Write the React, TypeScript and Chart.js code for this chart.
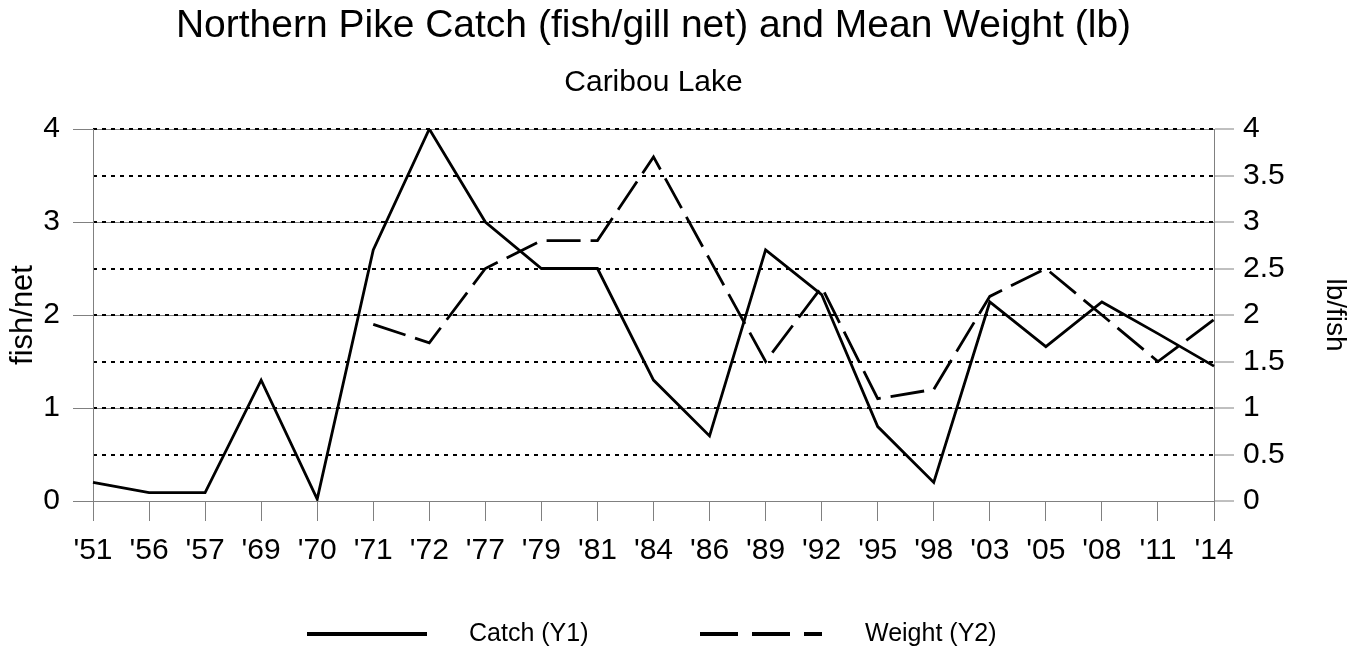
import React, { useEffect, useRef } from "react";
import { Chart, registerables } from "chart.js";

Chart.register(...registerables);

const FONT = "'Liberation Sans', Arial, Helvetica, sans-serif";

const years = ["'51", "'56", "'57", "'69", "'70", "'71", "'72", "'77", "'79", "'81", "'84", "'86", "'89", "'92", "'95", "'98", "'03", "'05", "'08", "'11", "'14"];
const catchValues = [0.2, 0.09, 0.09, 1.3, 0.02, 2.7, 4.0, 3.0, 2.5, 2.5, 1.3, 0.7, 2.7, 2.22, 0.8, 0.2, 2.14, 1.66, 2.14, 1.8, 1.45];
const weightValues = [null, null, null, null, null, 1.9, 1.7, 2.5, 2.8, 2.8, 3.7, 2.6, 1.5, 2.3, 1.1, 1.2, 2.2, 2.5, 2.0, 1.5, 1.95];
const leftTicks = [0, 1, 2, 3, 4];
const rightTicks = [0, 0.5, 1, 1.5, 2, 2.5, 3, 3.5, 4];
const seriesLabels = ["Catch (Y1)", "Weight (Y2)"];
const titleText = "Northern Pike Catch (fish/gill net) and Mean Weight (lb)";
const subtitleText = "Caribou Lake";
const leftAxisTitle = "fish/net";
const rightAxisTitle = "lb/fish";

const legendLayout = [
  { x0: 307, x1: 427, tx: 469, dash: [] as number[] },
  { x0: 700, x1: 822, tx: 865, dash: [38, 14] },
];

const legendPlugin = {
  id: "customLegend",
  afterDraw(chart: any) {
    const ctx = chart.ctx;
    const y = 634;
    chart.data.datasets.forEach((ds: any, i: number) => {
      const it = legendLayout[i];
      ctx.save();
      ctx.strokeStyle = "#000";
      ctx.lineWidth = 4;
      ctx.lineCap = "butt";
      ctx.setLineDash(it.dash);
      ctx.beginPath();
      ctx.moveTo(it.x0, y);
      ctx.lineTo(it.x1, y);
      ctx.stroke();
      ctx.setLineDash([]);
      ctx.fillStyle = "#000";
      ctx.font = `25px ${FONT}`;
      ctx.textBaseline = "middle";
      ctx.textAlign = "left";
      ctx.fillText(ds.label, it.tx, y);
      ctx.restore();
    });
  },
};

export default function App() {
  const canvasRef = useRef<HTMLCanvasElement | null>(null);

  useEffect(() => {
    document.body.style.margin = "0";
    const canvas = canvasRef.current;
    if (!canvas) return;
    Chart.defaults.font.family = FONT;
    Chart.defaults.color = "#000";

    const chart = new Chart(canvas, {
      type: "line",
      data: {
        labels: years,
        datasets: [
          {
            label: seriesLabels[0],
            data: catchValues,
            yAxisID: "y",
            borderColor: "#000",
            backgroundColor: "#000",
            borderWidth: 2.8,
            pointRadius: 0,
            tension: 0,
            fill: false,
          },
          {
            label: seriesLabels[1],
            data: weightValues,
            yAxisID: "y1",
            borderColor: "#000",
            backgroundColor: "#000",
            borderWidth: 2.8,
            borderDash: [34, 10],
            pointRadius: 0,
            tension: 0,
            fill: false,
            spanGaps: false,
          },
        ],
      },
      options: {
        responsive: false,
        animation: false,
        layout: { padding: { left: 0, right: 0, top: 0, bottom: 73 } },
        plugins: {
          legend: { display: false },
          tooltip: { enabled: false },
          title: {
            display: true,
            text: titleText,
            fullSize: false,
            color: "#000",
            font: { size: 39, weight: "normal" },
            padding: { top: 3.3, bottom: 0 },
          },
          subtitle: {
            display: true,
            text: subtitleText,
            fullSize: false,
            color: "#000",
            font: { size: 30, weight: "normal" },
            padding: { top: 14.6, bottom: 28.3 },
          },
        },
        scales: {
          x: {
            type: "category",
            offset: false,
            grid: {
              display: true,
              drawOnChartArea: false,
              drawTicks: true,
              tickLength: 20,
              tickColor: "#808080",
              color: "#808080",
            },
            border: { display: true, color: "#808080", width: 1 },
            ticks: { font: { size: 30 }, color: "#000", padding: 12, maxRotation: 0, minRotation: 0, autoSkip: false },
            afterFit: (s: any) => {
              s.height = 80;
            },
          },
          y: {
            type: "linear",
            position: "left",
            min: 0,
            max: 4,
            afterBuildTicks: (s: any) => {
              s.ticks = leftTicks.map((v) => ({ value: v }));
            },
            ticks: { font: { size: 30 }, color: "#000", padding: 13, callback: (v: any) => String(v) },
            grid: { color: "#808080", lineWidth: 1, tickLength: 20, tickColor: "#808080" },
            border: { display: true, color: "#808080", width: 1 },
            title: {
              display: true,
              text: leftAxisTitle,
              color: "#000",
              font: { size: 31 },
              padding: { top: 4.4, bottom: 0 },
            },
            afterFit: (s: any) => {
              s.width = 93;
            },
          },
          y1: {
            type: "linear",
            position: "right",
            min: 0,
            max: 4,
            afterBuildTicks: (s: any) => {
              s.ticks = rightTicks.map((v) => ({ value: v }));
            },
            ticks: { font: { size: 30 }, color: "#000", padding: 9, callback: (v: any) => String(v) },
            grid: {
              color: (c: any) => (c.tick && c.tick.value === 0 ? "rgba(0,0,0,0)" : "#000"),
              lineWidth: 2,
              borderDash: [4, 5],
              tickLength: 20,
              tickColor: "#808080",
              tickWidth: 1,
              tickBorderDash: [],
            },
            border: { display: true, color: "#808080", width: 1, dash: [4, 5] },
            title: {
              display: true,
              text: rightAxisTitle,
              color: "#000",
              font: { size: 28 },
              padding: { top: 14.2, bottom: 0 },
            },
            afterFit: (s: any) => {
              s.width = 152;
            },
          },
        },
      } as any,
      plugins: [legendPlugin],
    });

    return () => {
      chart.destroy();
    };
  }, []);

  return (
    <div style={{ width: 1366, height: 654 }}>
      <canvas ref={canvasRef} width={1366} height={654} style={{ display: "block", width: 1366, height: 654 }} />
    </div>
  );
}
